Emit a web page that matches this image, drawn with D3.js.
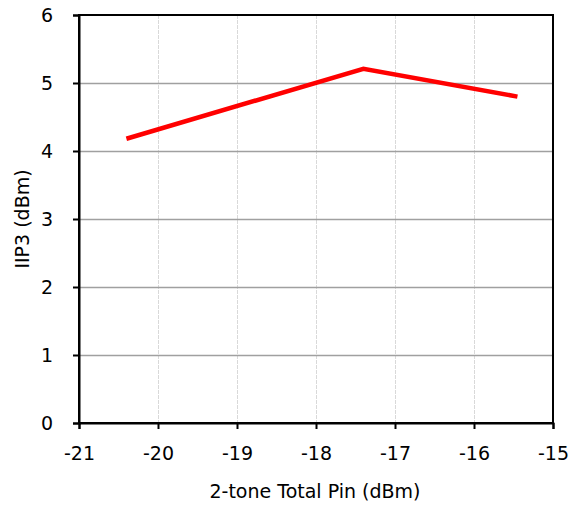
<!DOCTYPE html>
<html><head><meta charset="utf-8">
<script src="https://cdn.jsdelivr.net/npm/d3@7"></script>
<style>
body{margin:0;background:#fff;}
text{font-family:"DejaVu Sans",sans-serif;fill:#000;}
</style></head>
<body><svg id="c" width="586" height="507"></svg>
<script>
const pin = [-20.4, -17.4, -15.45];
const iip3 = [4.18, 5.21, 4.80];
const xTicks = [-21, -20, -19, -18, -17, -16, -15];
const yTicks = [0, 1, 2, 3, 4, 5, 6];

const svg = d3.select("#c");
const L = 79, R = 553, T = 15, B = 423;
const x = d3.scaleLinear().domain([-21, -15]).range([L, R]);
const y = d3.scaleLinear().domain([0, 6]).range([B, T]);
const fmt = d => String(d);

// vertical grid
svg.append("g").selectAll("line").data(xTicks.slice(1, -1)).join("line")
  .attr("x1", d => Math.round(x(d)) + 0.5).attr("x2", d => Math.round(x(d)) + 0.5)
  .attr("y1", T).attr("y2", B)
  .attr("stroke", "#d9d9d9").attr("stroke-width", 1).attr("stroke-dasharray", "4,1");
// horizontal grid
svg.append("g").selectAll("line").data(yTicks.slice(1, -1)).join("line")
  .attr("x1", L).attr("x2", R)
  .attr("y1", d => Math.round(y(d)) + 0.5).attr("y2", d => Math.round(y(d)) + 0.5)
  .attr("stroke", "#a0a0a0").attr("stroke-width", 1.5);

// frame
svg.append("rect").attr("x", L).attr("y", T).attr("width", R - L).attr("height", B - T)
  .attr("fill", "none").attr("stroke", "#000").attr("stroke-width", 2);

// axes
const xa = svg.append("g").attr("transform", `translate(0,${B})`)
  .call(d3.axisBottom(x).tickValues(xTicks).tickSize(6).tickPadding(18).tickFormat(fmt));
const ya = svg.append("g").attr("transform", `translate(${L},0)`)
  .call(d3.axisLeft(y).tickValues(yTicks).tickSize(6).tickPadding(20).tickFormat(fmt));
[xa, ya].forEach(g => {
  g.select(".domain").attr("stroke", "#000").attr("stroke-width", 2);
  g.selectAll(".tick line").attr("stroke", "#000").attr("stroke-width", 2);
  g.selectAll(".tick text").style("font-size", "19px").attr("fill", "#000")
   .style("font-family", '"DejaVu Sans",sans-serif');
});

// line
svg.append("path")
  .datum(pin.map((p, i) => [p, iip3[i]]))
  .attr("d", d3.line().x(d => x(d[0])).y(d => y(d[1])))
  .attr("fill", "none").attr("stroke", "#ff0000").attr("stroke-width", 4.5);

// labels
svg.append("text").attr("x", 315).attr("y", 498).attr("text-anchor", "middle")
  .style("font-size", "19px").text("2-tone Total Pin (dBm)");
svg.append("text").attr("transform", `translate(29,${(T + B) / 2}) rotate(-90)`)
  .attr("text-anchor", "middle").style("font-size", "19px").text("IIP3 (dBm)");
</script></body></html>
